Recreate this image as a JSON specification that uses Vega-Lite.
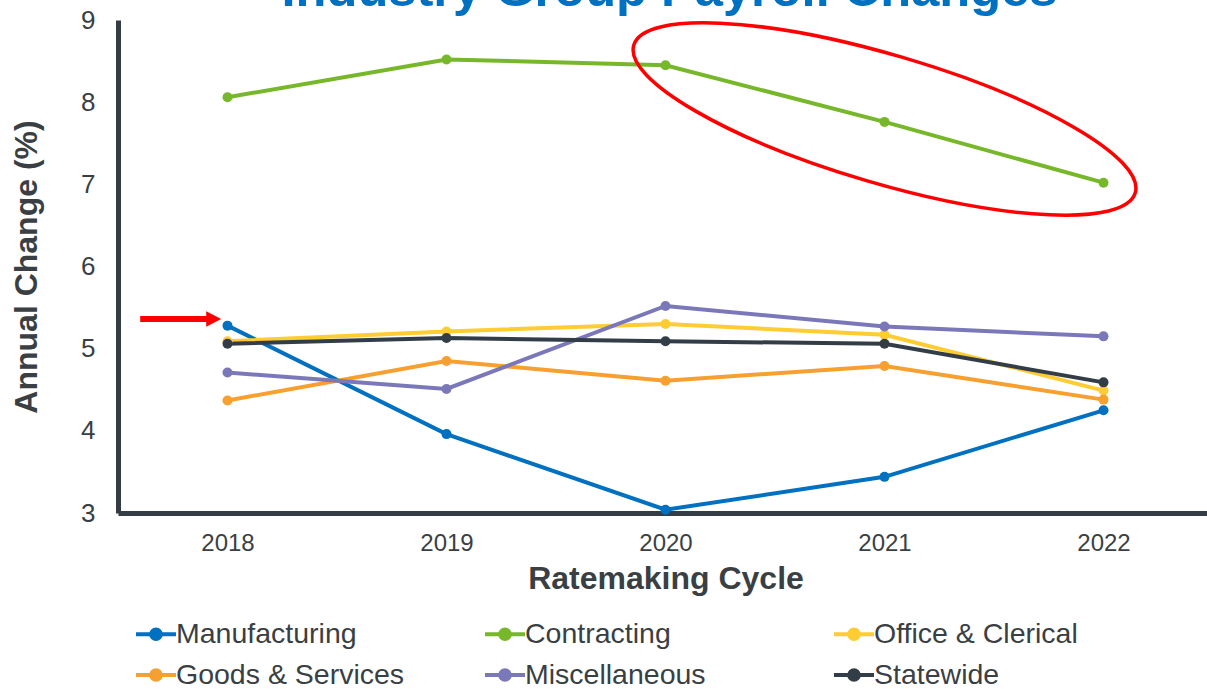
{
  "$schema": "https://vega.github.io/schema/vega-lite/v6.json",
  "width": 1095,
  "height": 493,
  "autosize": {"type": "none"},
  "padding": {"left": 118, "top": 20, "right": -6, "bottom": 176},
  "background": "white",
  "title": {
    "text": "Industry Group Payroll Changes",
    "fontSize": 50.6,
    "font": "Liberation Sans",
    "fontWeight": "bold",
    "color": "#0070C0",
    "anchor": "middle",
    "baseline": "alphabetic",
    "offset": -50,
    "dx": 4
  },
  "config": {
    "view": {"stroke": null},
    "font": "Liberation Sans"
  },
  "layer": [
    {
      "data": {
        "values": [
          {"cycle": "2018", "group": "Manufacturing", "value": 5.28},
          {"cycle": "2019", "group": "Manufacturing", "value": 3.96},
          {"cycle": "2020", "group": "Manufacturing", "value": 3.04},
          {"cycle": "2021", "group": "Manufacturing", "value": 3.44},
          {"cycle": "2022", "group": "Manufacturing", "value": 4.25},
          {"cycle": "2018", "group": "Contracting", "value": 8.06},
          {"cycle": "2019", "group": "Contracting", "value": 8.52},
          {"cycle": "2020", "group": "Contracting", "value": 8.45},
          {"cycle": "2021", "group": "Contracting", "value": 7.76},
          {"cycle": "2022", "group": "Contracting", "value": 7.02},
          {"cycle": "2018", "group": "Office & Clerical", "value": 5.09},
          {"cycle": "2019", "group": "Office & Clerical", "value": 5.21},
          {"cycle": "2020", "group": "Office & Clerical", "value": 5.30},
          {"cycle": "2021", "group": "Office & Clerical", "value": 5.17},
          {"cycle": "2022", "group": "Office & Clerical", "value": 4.49},
          {"cycle": "2018", "group": "Goods & Services", "value": 4.37},
          {"cycle": "2019", "group": "Goods & Services", "value": 4.85},
          {"cycle": "2020", "group": "Goods & Services", "value": 4.61},
          {"cycle": "2021", "group": "Goods & Services", "value": 4.79},
          {"cycle": "2022", "group": "Goods & Services", "value": 4.38},
          {"cycle": "2018", "group": "Miscellaneous", "value": 4.71},
          {"cycle": "2019", "group": "Miscellaneous", "value": 4.51},
          {"cycle": "2020", "group": "Miscellaneous", "value": 5.52},
          {"cycle": "2021", "group": "Miscellaneous", "value": 5.27},
          {"cycle": "2022", "group": "Miscellaneous", "value": 5.15},
          {"cycle": "2018", "group": "Statewide", "value": 5.06},
          {"cycle": "2019", "group": "Statewide", "value": 5.13},
          {"cycle": "2020", "group": "Statewide", "value": 5.09},
          {"cycle": "2021", "group": "Statewide", "value": 5.06},
          {"cycle": "2022", "group": "Statewide", "value": 4.59}
        ]
      },
      "mark": {"type": "line", "strokeWidth": 4, "point": {"size": 100, "filled": true, "opacity": 1}},
      "encoding": {
        "x": {
          "field": "cycle",
          "type": "ordinal",
          "scale": {"type": "point", "padding": 0.5},
          "axis": {
            "title": "Ratemaking Cycle",
            "labelAngle": 0,
            "domain": true,
            "domainColor": "#343D46",
            "domainWidth": 5,
            "ticks": false,
            "grid": false,
            "labelFontSize": 24,
            "labelColor": "#3A3F44",
            "labelPadding": 18,
            "titleFontSize": 32,
            "titleFontWeight": "bold",
            "titleColor": "#3A3F44",
            "titlePadding": 8
          }
        },
        "y": {
          "field": "value",
          "type": "quantitative",
          "scale": {"domain": [3, 9], "nice": false, "zero": false},
          "axis": {
            "title": "Annual Change (%)",
            "values": [3, 4, 5, 6, 7, 8, 9],
            "format": "d",
            "domain": true,
            "domainColor": "#343D46",
            "domainWidth": 5,
            "ticks": false,
            "grid": false,
            "labelFontSize": 26,
            "labelColor": "#3A3F44",
            "labelPadding": 23,
            "titleFontSize": 32,
            "titleFontWeight": "bold",
            "titleColor": "#3A3F44",
            "titlePadding": 37
          }
        },
        "color": {
          "field": "group",
          "type": "nominal",
          "sort": null,
          "scale": {
            "domain": ["Manufacturing", "Contracting", "Office & Clerical", "Goods & Services", "Miscellaneous", "Statewide"],
            "range": ["#0070C0", "#77B82A", "#FFCC33", "#F79F2F", "#7B78BA", "#333D47"]
          },
          "legend": {
            "orient": "none",
            "legendX": 16,
            "legendY": 592,
            "direction": "horizontal",
            "columns": 3,
            "gridAlign": "all",
            "columnPadding": 72,
            "rowPadding": 4,
            "title": null,
            "symbolType": "M-1,0L1,0M-0.24,0A0.24,0.24 0 1,0 0.24,0A0.24,0.24 0 1,0 -0.24,0",
            "symbolSize": 1600,
            "symbolStrokeWidth": 4,
            "labelFontSize": 28.5,
            "labelColor": "#3A3F44",
            "labelOffset": -2,
            "labelLimit": 400,
            "encode": {
              "symbols": {
                "update": {
                  "fill": {"scale": "color", "field": "value"},
                  "stroke": {"scale": "color", "field": "value"},
                  "opacity": {"value": 1}
                }
              }
            }
          }
        }
      }
    },
    {
      "data": {"values": [{"cycle": "2021", "value": 7.795}]},
      "mark": {
        "type": "point",
        "shape": "M-1,0A1,0.2456 0 1,0 1,0A1,0.2456 0 1,0 -1,0",
        "size": 273320,
        "angle": 16.4,
        "filled": false,
        "stroke": "#FF0000",
        "strokeWidth": 3.5,
        "opacity": 1
      },
      "encoding": {
        "x": {"field": "cycle", "type": "ordinal"},
        "y": {"field": "value", "type": "quantitative"}
      }
    },
    {
      "data": {"values": [{"cycle": "2018", "value": 5.361}]},
      "mark": {
        "type": "point",
        "shape": "M-4.365,-0.15L-1.065,-0.15L-1.065,-0.39L-0.315,0L-1.065,0.39L-1.065,0.15L-4.365,0.15Z",
        "size": 1600,
        "filled": true,
        "fill": "#FF0000",
        "strokeWidth": 0,
        "opacity": 1
      },
      "encoding": {
        "x": {"field": "cycle", "type": "ordinal"},
        "y": {"field": "value", "type": "quantitative"}
      }
    }
  ]
}
